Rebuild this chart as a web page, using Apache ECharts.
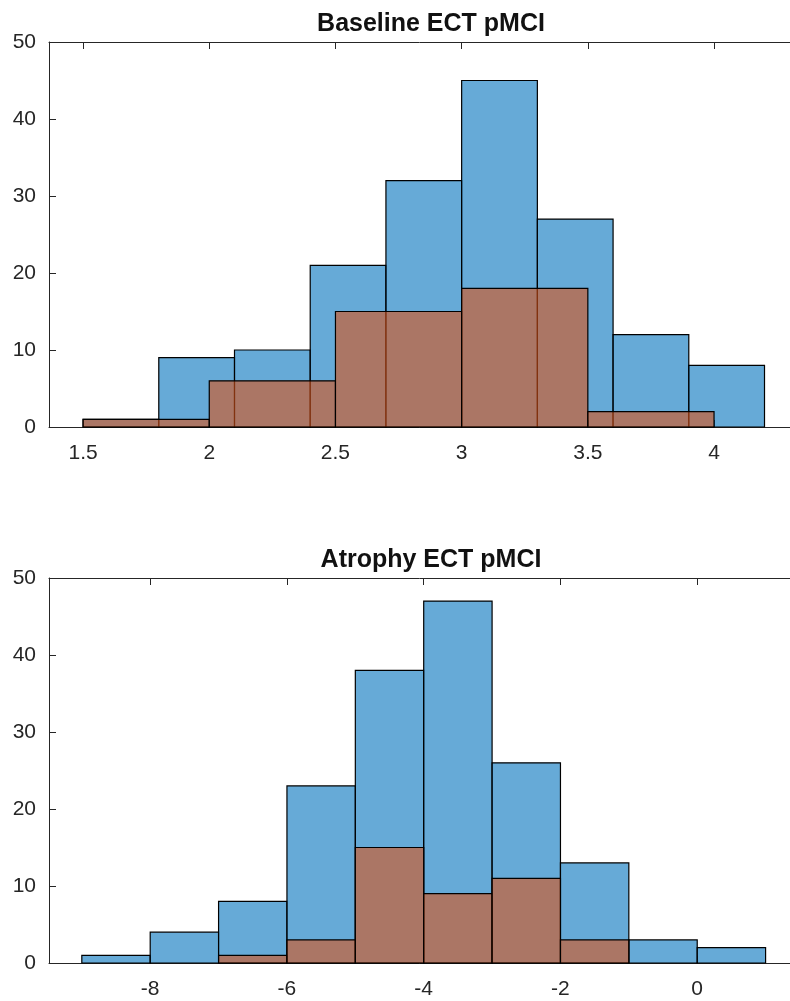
<!DOCTYPE html>
<html>
<head>
<meta charset="utf-8">
<title>ECT pMCI histograms</title>
<script src="https://cdn.jsdelivr.net/npm/echarts/dist/echarts.min.js"></script>
<style>
    html, body { margin: 0; padding: 0; background: #fff; }
    #container0 { width: 790px; height: 1001px; }
</style>
</head>
<body>
<div id="container0"></div>
<script>
// Baseline ECT pMCI
var baseBlueEdges = [1.5, 1.8, 2.1, 2.4, 2.7, 3.0, 3.3, 3.6, 3.9, 4.2];
var baseBlueCounts = [1, 9, 10, 21, 32, 45, 27, 12, 8];
var baseRedEdges = [1.5, 2.0, 2.5, 3.0, 3.5, 4.0];
var baseRedCounts = [1, 6, 15, 18, 2];
var baseTicks = [1.5, 2, 2.5, 3, 3.5, 4];

// Atrophy ECT pMCI
var atroBlueEdges = [-9, -8, -7, -6, -5, -4, -3, -2, -1, 0, 1];
var atroBlueCounts = [1, 4, 8, 23, 38, 47, 26, 13, 3, 2];
var atroRedEdges = [-7, -6, -5, -4, -3, -2, -1];
var atroRedCounts = [1, 3, 15, 9, 11, 3];
var atroTicks = [-8, -6, -4, -2, 0];

var titles = ['Baseline ECT pMCI', 'Atrophy ECT pMCI'];

var axisColor = '#262626';
var blueFill = 'rgba(0,114,189,0.6)';
var redFill = 'rgba(217,83,25,0.6)';

// edges + counts -> [left, right, count]
function bins(edges, counts) {
    var out = [];
    for (var i = 0; i < counts.length; i++) {
        out.push([edges[i], edges[i + 1], counts[i]]);
    }
    return out;
}

function histSeries(data, fill, gridIdx) {
    return {
        type: 'custom',
        xAxisIndex: gridIdx * 2,
        yAxisIndex: gridIdx,
        encode: { x: [0, 1], y: 2 },
        data: data,
        renderItem: function (params, api) {
            var p0 = api.coord([api.value(0), api.value(2)]);
            var p1 = api.coord([api.value(1), 0]);
            return {
                type: 'rect',
                shape: { x: p0[0], y: p0[1], width: p1[0] - p0[0], height: p1[1] - p0[1] },
                style: { fill: fill, stroke: '#000', lineWidth: 1.2 }
            };
        }
    };
}

function xAxes(gridIdx, min, max, ticks) {
    var common = {
        type: 'value',
        gridIndex: gridIdx,
        min: min,
        max: max,
        splitLine: { show: false },
        axisLine: { show: true, onZero: false, lineStyle: { color: axisColor, width: 1 } },
        axisTick: { show: true, inside: true, length: 7, customValues: ticks, lineStyle: { color: axisColor } }
    };
    var bottom = Object.assign({}, common, {
        position: 'bottom',
        axisLabel: {
            customValues: ticks,
            color: axisColor,
            fontSize: 21,
            fontFamily: 'Liberation Sans',
            margin: 16
        }
    });
    var top = Object.assign({}, common, {
        position: 'top',
        axisLabel: { show: false }
    });
    return [bottom, top];
}

function yAxis(gridIdx) {
    return {
        type: 'value',
        gridIndex: gridIdx,
        min: 0,
        max: 50,
        interval: 10,
        splitLine: { show: false },
        axisLine: { show: true, onZero: false, lineStyle: { color: axisColor, width: 1 } },
        axisTick: { show: true, inside: true, length: 7, lineStyle: { color: axisColor } },
        axisLabel: { color: axisColor, fontSize: 21, fontFamily: 'Liberation Sans', margin: 13 }
    };
}

var opt_chart_0 = {
    animation: false,
    title: [
        {
            text: titles[0],
            left: 426, top: 7, textAlign: 'center',
            textStyle: { fontSize: 25, fontWeight: 'bold', color: '#111', fontFamily: 'Liberation Sans' }
        },
        {
            text: titles[1],
            left: 426, top: 543, textAlign: 'center',
            textStyle: { fontSize: 25, fontWeight: 'bold', color: '#111', fontFamily: 'Liberation Sans' }
        }
    ],
    // plot boxes run past the right edge of the picture (cropped figure)
    grid: [
        { left: 49, top: 42, right: 0, height: 385 },
        { left: 49, top: 578, right: 0, height: 385 }
    ],
    xAxis: xAxes(0, 1.365, 4.301, baseTicks).concat(xAxes(1, -9.48, 1.357, atroTicks)),
    yAxis: [yAxis(0), yAxis(1)],
    series: [
        histSeries(bins(baseBlueEdges, baseBlueCounts), blueFill, 0),
        histSeries(bins(baseRedEdges, baseRedCounts), redFill, 0),
        histSeries(bins(atroBlueEdges, atroBlueCounts), blueFill, 1),
        histSeries(bins(atroRedEdges, atroRedCounts), redFill, 1)
    ]
};

var chart_0 = echarts.init(document.getElementById('container0'));
chart_0.setOption(opt_chart_0);
</script>
</body>
</html>
